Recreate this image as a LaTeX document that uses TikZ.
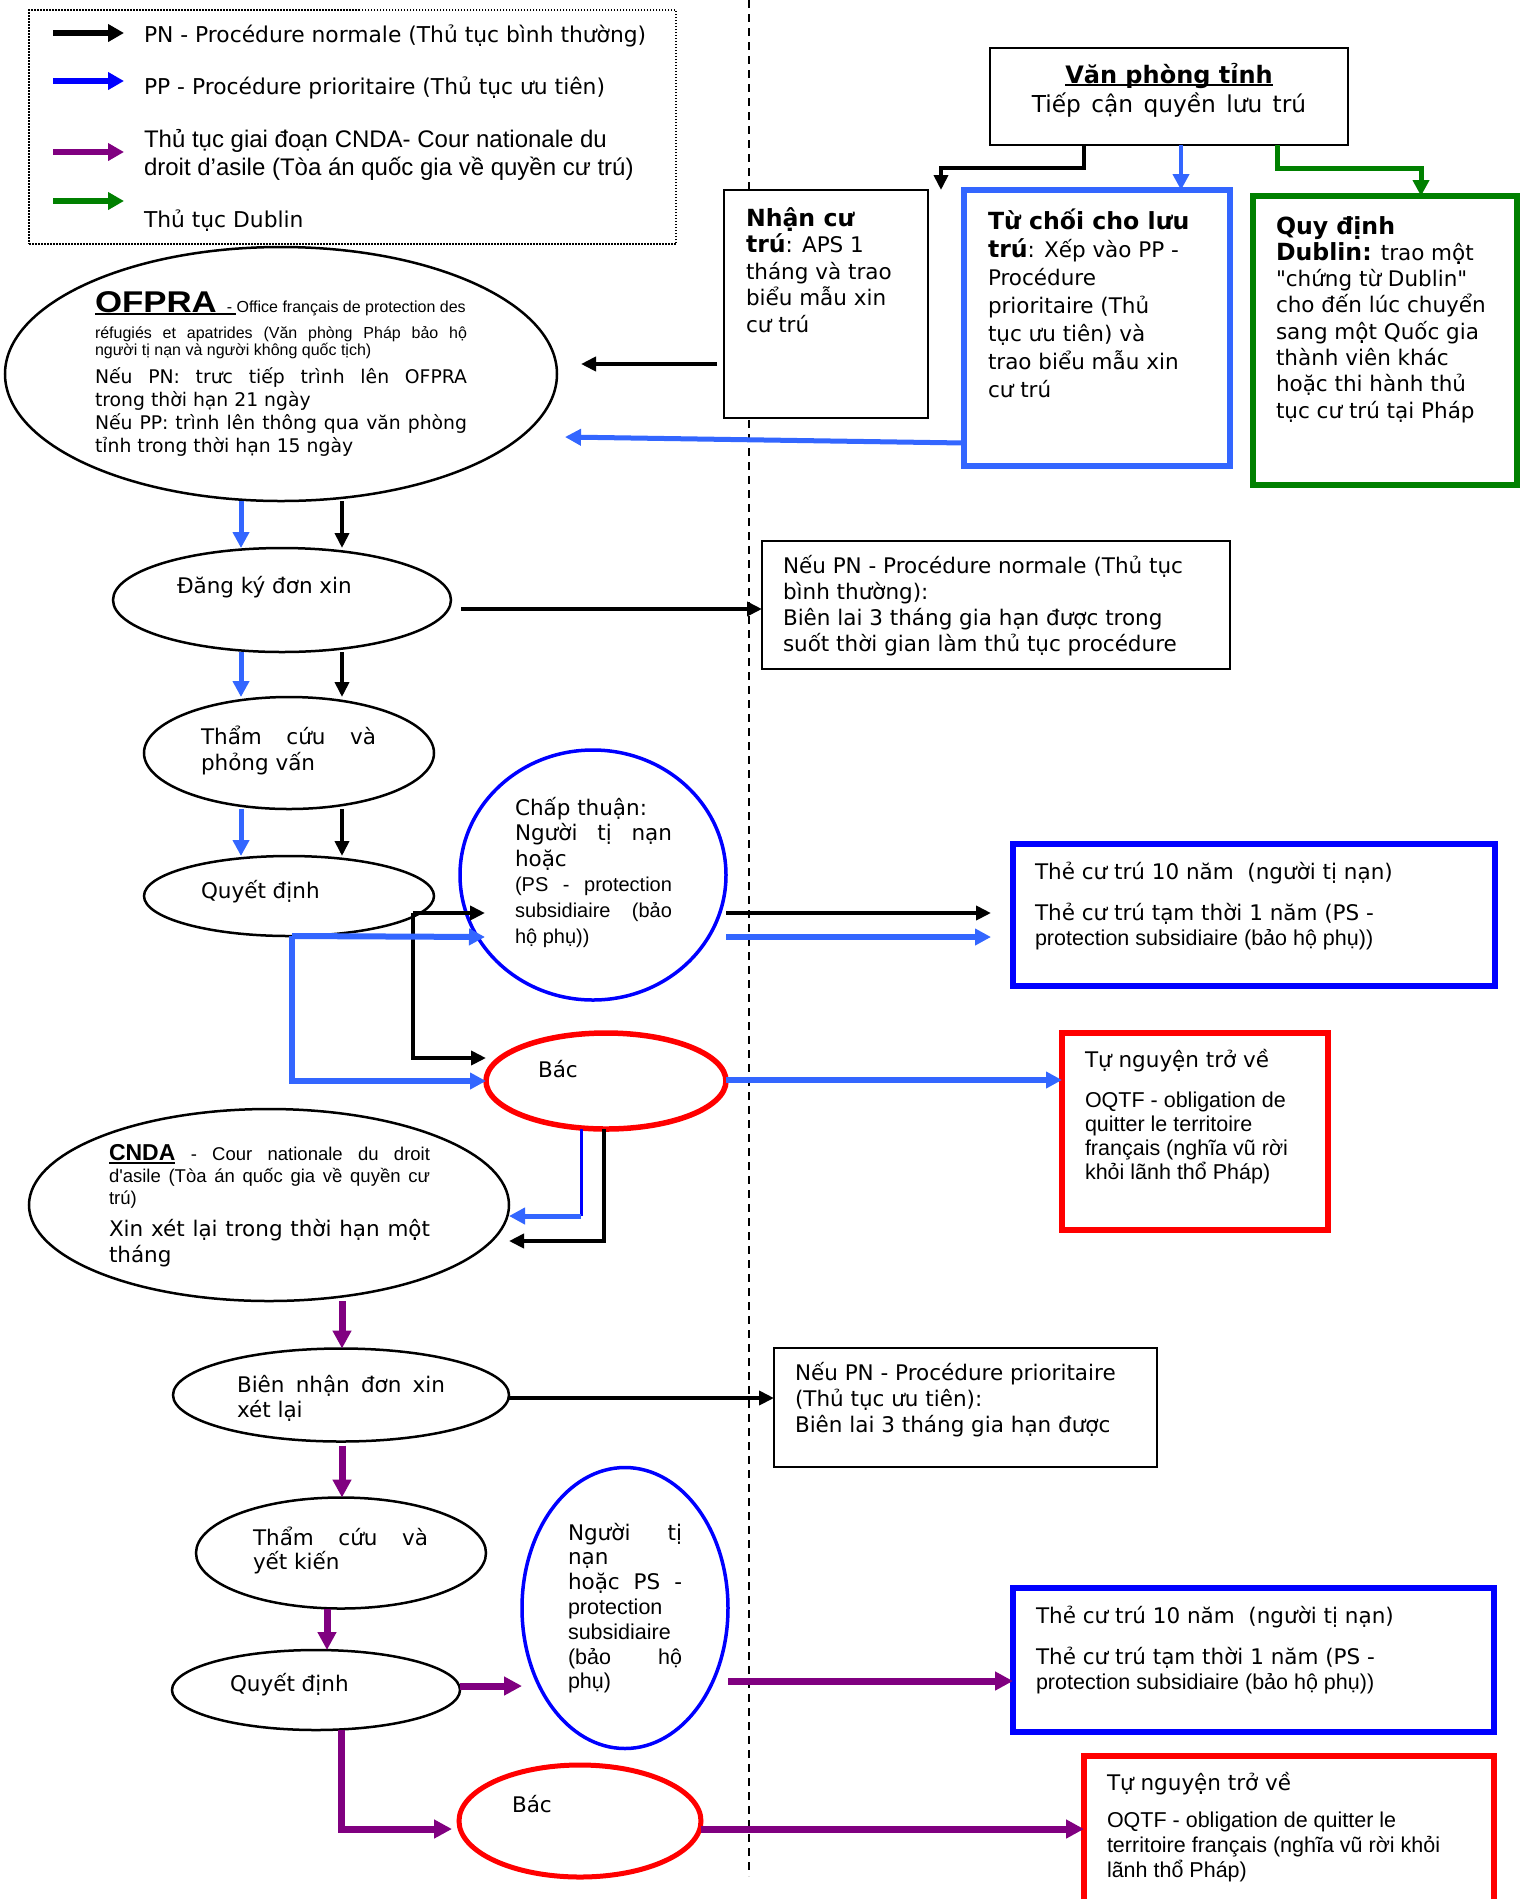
\documentclass[tikz,border=0pt]{standalone}
\usepackage{fontspec}
\usepackage{graphicx}
\setmainfont{DejaVu Sans}[Ligatures=TeXOff]
\newfontfamily\arialf{Liberation Sans}[Ligatures=TeXOff]
\usetikzlibrary{arrows.meta,shapes.geometric,calc}
\definecolor{lblue}{RGB}{51,102,255}
\definecolor{pblue}{RGB}{0,0,255}
\definecolor{dgreen}{RGB}{0,128,0}
\definecolor{purp}{RGB}{128,0,128}
\definecolor{rred}{RGB}{255,0,0}
\newcommand\myul[3]{\setbox0=\hbox{#3}\rlap{\rule[-#1]{\wd0}{#2}}\box0\relax}
\newcommand\jl[1]{{\spaceskip=0pt\xspaceskip=0pt\makebox[\hsize][s]{#1}}}
\newcommand\bigb[1]{{\fontsize{23.6}{26.5}\selectfont\bfseries #1}}
\tikzset{
  tx/.style={inner sep=0pt, outer sep=0pt, anchor=base west, align=left, execute at begin node={\spaceskip=0pt\xspaceskip=0pt\relax}},
  tv/.style n args={2}{tx, font=\fontsize{#1}{#2}\selectfont},
  ta/.style n args={2}{tx, font=\arialf\fontsize{#1}{#2}\selectfont},
  boxthin/.style={rectangle, draw=black, fill=white, line width=2.5pt, inner sep=0pt, outer sep=0pt, anchor=north west},
  boxthick/.style={rectangle, draw=#1, fill=white, line width=5.5pt, inner sep=0pt, outer sep=0pt, anchor=north west},
  ell/.style={ellipse, draw=black, fill=white, line width=2.5pt, inner sep=0pt, outer sep=0pt},
  ellc/.style n args={2}{ellipse, draw=#1, fill=white, line width=#2, inner sep=0pt, outer sep=0pt},
  arrblk/.style={draw=black, line width=4pt, -{Triangle[length=15pt,width=14pt]}},
  arrlb/.style={draw=lblue, line width=#1, -{Triangle[length=16pt,width=16pt]}},
  arrlb/.default=5pt,
  arrgr/.style={draw=dgreen, line width=5pt, -{Triangle[length=16pt,width=16pt]}},
  arrpu/.style={draw=purp, line width=7pt, -{Triangle[length=18pt,width=18pt]}},
  legarr/.style={draw=#1, line width=6pt, -{Triangle[length=16pt,width=17pt]}},
  sep/.style={draw=black, line width=2pt, dash pattern=on 8pt off 6pt},
}
\begin{document}
\begin{tikzpicture}[x=1pt,y=-1pt]
\useasboundingbox (0,0) rectangle (1536,1899);
\fill[white] (0,0) rectangle (1536,1899);

% separator
\draw[sep] (749,0) -- (749,1876);

% legend
\node[rectangle, draw=black, line width=1.5pt, dash pattern=on 1.5pt off 1.5pt, inner sep=0pt, outer sep=0pt, anchor=north west, minimum width=647pt, minimum height=234pt] (legend) at (29,10) {};
\draw[legarr=black] (53,33) -- (124,33);
\draw[legarr=pblue] (53,81) -- (124,81);
\draw[legarr=purp] (53,152) -- (124,152);
\draw[legarr=dgreen] (53,201) -- (124,201);
\node[tv={21.8}{26}, text width=560pt] (legPN) at (144,42) {PN - Procédure normale (Thủ tục bình thường)};
\node[tv={21.8}{26}, text width=560pt] (legPP) at (144,94) {PP - Procédure prioritaire (Thủ tục ưu tiên)};
\node[ta={24}{28}, text width=540pt] (legCN) at (144,147) {Thủ tục giai đoạn CNDA- Cour nationale du\\droit d’asile (Tòa án quốc gia về quyền cư trú)};
\node[tv={21.8}{26}, text width=560pt] (legDU) at (144,227) {Thủ tục Dublin};

% boxes
\node[boxthin, minimum width=358pt, minimum height=97pt] (van) at (990,48) {};
\node[boxthin, minimum width=204pt, minimum height=228pt] (nhan) at (724,190) {};
\node[boxthick=lblue, minimum width=266pt, minimum height=276pt] (tuchoi) at (964,190) {};
\node[boxthick=dgreen, minimum width=264pt, minimum height=289pt] (dublin) at (1253,196) {};
\node[boxthin, minimum width=468pt, minimum height=128pt] (neupn) at (762,541) {};
\node[boxthick=pblue, minimum width=482pt, minimum height=142pt] (the1) at (1013,844) {};
\node[boxthick=rred, minimum width=266pt, minimum height=197pt] (tn1) at (1062,1033) {};
\node[boxthin, minimum width=383pt, minimum height=119pt] (neupp) at (774,1348) {};
\node[boxthick=pblue, minimum width=481pt, minimum height=144pt] (the2) at (1013,1588) {};
\node[boxthick=rred, minimum width=410pt, minimum height=180pt] (tn2) at (1084,1756) {};

% ellipses
\node[ell, minimum width=552pt, minimum height=254pt] (ofpra) at (281,374) {};
\node[ell, minimum width=338pt, minimum height=104pt] (dang) at (282,600) {};
\node[ell, minimum width=290pt, minimum height=112pt] (tham1) at (289,753) {};
\node[ell, minimum width=290pt, minimum height=80pt] (quyet1) at (289,896) {};
\node[ellc={pblue}{3.5pt}, minimum width=266pt, minimum height=250pt] (chap) at (593,875) {};
\node[ellc={rred}{5.5pt}, minimum width=240pt, minimum height=96pt] (bac1) at (606,1081) {};
\node[ell, minimum width=480pt, minimum height=192pt] (cnda) at (269,1205) {};
\node[ell, minimum width=336pt, minimum height=93pt] (bien) at (341,1395) {};
\node[ell, minimum width=290pt, minimum height=111pt] (tham2) at (341,1553) {};
\node[ell, minimum width=288pt, minimum height=80pt] (quyet2) at (316,1690) {};
\node[ellc={pblue}{3.5pt}, minimum width=206pt, minimum height=281pt] (nguoi) at (625,1608) {};
\node[ellc={rred}{5pt}, minimum width=242pt, minimum height=112pt] (bac2) at (580,1821) {};

% texts
\node[tx, align=center, anchor=base, text width=350pt, font=\fontsize{24}{29}\selectfont] (vanT) at (1169,83) {\myul{3pt}{2pt}{\bfseries Văn phòng tỉnh}\\{\fontsize{23.3}{29}\selectfont Tiếp cận quyền lưu trú}};
\node[tv={21.5}{26.5}, text width=178pt] (nhanT) at (746,226) {\bigb{Nhận cư}\\\bigb{trú}: APS 1\\tháng và trao\\biểu mẫu xin\\cư trú};
\node[tv={21.5}{28}, text width=236pt] (tuchoiT) at (988,229) {\bigb{Từ chối cho lưu}\\\bigb{trú}: Xếp vào PP -\\Procédure\\prioritaire (Thủ\\tục ưu tiên) và\\trao biểu mẫu xin\\cư trú};
\node[tv={21.5}{26.3}, text width=236pt] (dublinT) at (1276,234) {\bigb{Quy định}\\\bigb{Dublin:} trao một\\"chứng từ Dublin"\\cho đến lúc chuyển\\sang một Quốc gia\\thành viên khác\\hoặc thi hành thủ\\tục cư trú tại Pháp};

\node[tx, text width=400pt] (ofpraT1) at (95,312) {\rlap{\rule[-3.3pt]{141pt}{2.7pt}}\scalebox{1.16}[1]{\arialf\bfseries\fontsize{30}{30}\selectfont OFPRA}\hspace{10pt}{\arialf\fontsize{16}{17}\selectfont - Office français de protection des}};
\node[ta={16}{17}, text width=372pt] (ofpraT2) at (95,338) {\jl{réfugiés et apatrides (Văn phòng Pháp bảo hộ}\\người tị nạn và người không quốc tịch)};
\node[tv={18.8}{23}, text width=372pt] (ofpraT3) at (95,383) {\jl{Nếu PN: trưc tiếp trình lên OFPRA}\\trong thời hạn 21 ngày\\\jl{Nếu PP: trình lên thông qua văn phòng}\\tỉnh trong thời hạn 15 ngày};

\node[tv={21.5}{26}, text width=250pt] (dangT) at (177,593) {Đăng ký đơn xin};
\node[tv={21.5}{26}, text width=175pt] (tham1T) at (201,744) {\jl{Thẩm cứu và}\\phỏng vấn};
\node[tv={21.5}{26}, text width=200pt] (quyet1T) at (201,898) {Quyết định};
\node[tv={21.5}{25.6}, text width=157pt] (chapT) at (515,815) {Chấp thuận:\\\jl{Người tị nạn}\\hoặc\\{\arialf\fontsize{20}{25.6}\selectfont\jl{(PS - protection}\\\jl{subsidiaire (bảo}\\hộ phụ))}};
\node[tv={21.5}{26}, text width=100pt] (bac1T) at (538,1077) {Bác};
\node[tv={21.5}{26}, text width=440pt] (neupnT) at (783,573) {Nếu PN - Procédure normale (Thủ tục\\bình thường):\\Biên lai 3 tháng gia hạn được trong\\suốt thời gian làm thủ tục procédure};
\node[tv={21.5}{25}, text width=455pt] (the1T) at (1035,879) {Thẻ cư trú 10 năm~~(người tị nạn)\\[16pt]Thẻ cư trú tạm thời 1 năm (PS -\\{\arialf protection subsidiaire (bảo hộ phụ))}};
\node[tv={21.5}{24.3}, text width=245pt] (tn1T) at (1085,1067) {Tự nguyện trở về\\[15.7pt]{\arialf OQTF - obligation de\\quitter le territoire\\français (nghĩa vũ rời\\khỏi lãnh thổ Pháp)}};

\node[ta={18.5}{22}, text width=321pt] (cndaT1) at (109,1160) {\jl{\myul{4pt}{2.5pt}{\bfseries\fontsize{23}{22}\selectfont CNDA} - Cour nationale du droit}\\\jl{d'asile (Tòa án quốc gia về quyền cư}\\trú)};
\node[tv={21.5}{26}, text width=321pt] (cndaT2) at (109,1236) {\jl{Xin xét lại trong thời hạn một}\\tháng};

\node[tv={21.5}{25}, text width=208pt] (bienT) at (237,1392) {\jl{Biên nhận đơn xin}\\xét lại};
\node[tv={21.5}{26}, text width=360pt] (neuppT) at (795,1380) {Nếu PN - Procédure prioritaire\\(Thủ tục ưu tiên):\\Biên lai 3 tháng gia hạn được};
\node[tv={21.5}{24}, text width=175pt] (tham2T) at (253,1545) {\jl{Thẩm cứu và}\\yết kiến};
\node[tv={21.5}{26}, text width=200pt] (quyet2T) at (230,1691) {Quyết định};
\node[tv={21.5}{24.8}, text width=114pt] (nguoiT) at (568,1540) {\jl{Người tị}\\nạn\\\jl{hoặc PS -}\\{\arialf protection\\subsidiaire\\\jl{(bảo hộ}\\phụ)}};
\node[tv={21.5}{26}, text width=100pt] (bac2T) at (512,1812) {Bác};
\node[tv={21.5}{25}, text width=455pt] (the2T) at (1036,1623) {Thẻ cư trú 10 năm~~(người tị nạn)\\[16pt]Thẻ cư trú tạm thời 1 năm (PS -\\{\arialf protection subsidiaire (bảo hộ phụ))}};
\node[tv={21.5}{25}, text width=380pt] (tn2T) at (1107,1790) {Tự nguyện trở về\\[12pt]{\arialf OQTF - obligation de quitter le\\territoire français (nghĩa vũ rời khỏi\\lãnh thổ Pháp)}};

% connectors
\draw[arrblk] (van.south -| 1084,0) |- (941,168) -- (nhan.north -| 941,0);
\draw[arrlb=4pt] (van.south -| 1181,0) -- (tuchoi.north -| 1181,0);
\draw[arrgr] (van.south -| 1277,0) |- (1421,168) -- (dublin.north -| 1421,0);
\draw[arrblk] ($(nhan.west |- 0,364)+(-7,0)$) -- ($(ofpra.east |- 0,364)+(24,0)$);
\draw[arrlb] (tuchoi.west |- 0,443) -- ($(ofpra.east |- 0,437)+(8,0)$);

\draw[arrlb] (ofpra.south -| 241,0) -- (dang.north -| 241,0);
\draw[arrblk] (ofpra.south -| 342,0) -- (dang.north -| 342,0);
\draw[arrlb] (dang.south -| 241,0) -- (tham1.north -| 241,0);
\draw[arrblk] (dang.south -| 342,0) -- (tham1.north -| 342,0);
\draw[arrlb] (tham1.south -| 241,0) -- (quyet1.north -| 241,0);
\draw[arrblk] (tham1.south -| 342,0) -- (quyet1.north -| 342,0);

\draw[arrblk] ($(dang.east |- 0,609)+(10,0)$) -- (neupn.west |- 0,609);

\coordinate (jb) at (413,913);
\draw[arrblk] (jb) -- ($(chap.west |- 0,913)+(25,0)$);
\draw[arrblk] (jb) |- (bac1.west |- 0,1058);
\coordinate (jl) at (quyet1.south -| 292,0);
\draw[arrlb=6pt] (jl) -- ($(chap.west |- 0,937)+(25,0)$);
\draw[arrlb=6pt] (jl) |- (bac1.west |- 0,1081);

\draw[arrblk] (chap.east |- 0,913) -- ($(the1.west |- 0,913)+(-22,0)$);
\draw[arrlb=6pt] (chap.east |- 0,937) -- ($(the1.west |- 0,937)+(-22,0)$);
\draw[arrlb=6pt] (bac1.east |- 0,1080) -- (tn1.west |- 0,1080);

\coordinate (jc) at (581,1216);
\draw[draw=pblue, line width=3pt] (bac1.south -| 581,0) -- (jc);
\draw[arrlb] (jc) -- (cnda.east |- 0,1216);
\draw[arrblk] (bac1.south -| 604,0) |- (cnda.east |- 0,1241);

\draw[arrpu] (cnda.south -| 342,0) -- (bien.north -| 342,0);
\draw[arrblk] (bien.east |- 0,1398) -- (neupp.west |- 0,1398);
\draw[arrpu] ($(bien.south -| 342,0)+(0,4)$) -- (tham2.north -| 342,0);
\draw[arrpu] (tham2.south -| 327,0) -- (quyet2.north -| 327,0);
\draw[arrpu] (quyet2.east |- 0,1686) -- (nguoi.west |- 0,1686);
\draw[arrpu] (quyet2.south -| 341,0) |- ($(bac2.west |- 0,1829)+(-7,0)$);
\draw[arrpu] (nguoi.east |- 0,1681) -- (the2.west |- 0,1681);
\draw[arrpu] (bac2.east |- 0,1829) -- (tn2.west |- 0,1829);
\end{tikzpicture}
\end{document}
